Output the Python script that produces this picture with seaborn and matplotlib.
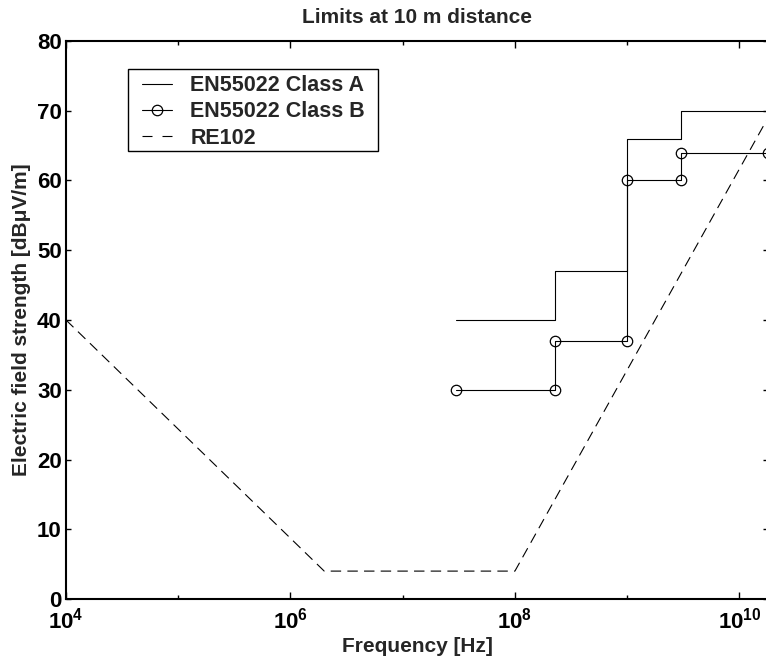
import numpy as np
import pandas as pd
import matplotlib
matplotlib.use("Agg")
import matplotlib.pyplot as plt
import seaborn as sns
from matplotlib.patches import Rectangle
from matplotlib.ticker import FixedLocator, NullFormatter, FixedFormatter

# ---- data ----
class_freq = [30e6, 230e6, 230e6, 1e9, 1e9, 3e9, 3e9, 18e9]
class_a_level = [40, 40, 47, 47, 66, 66, 70, 70]
class_b_level = [30, 30, 37, 37, 60, 60, 64, 64]
re102_freq = [1e4, 2e6, 1e8, 18e9]
re102_level = [40, 4, 4, 69]
series_names = ["EN55022 Class A", "EN55022 Class B", "RE102"]
x_major = [1e4, 1e6, 1e8, 1e10]
x_major_labels = [r"$\mathregular{10^{4}}$", r"$\mathregular{10^{6}}$",
                  r"$\mathregular{10^{8}}$", r"$\mathregular{10^{10}}$"]
x_minor = [1e5, 1e7, 1e9]
y_ticks = [0, 10, 20, 30, 40, 50, 60, 70, 80]

sns.set_style("ticks")
plt.rcParams["font.family"] = ["Liberation Sans", "DejaVu Sans"]
plt.rcParams["mathtext.fontset"] = "custom"
plt.rcParams["mathtext.rm"] = "Liberation Sans:bold"
plt.rcParams["mathtext.bf"] = "Liberation Sans:bold"
plt.rcParams["lines.scale_dashes"] = False

W, H = 766, 666
fig = plt.figure(figsize=(W / 100, H / 100), dpi=100)
ax = fig.add_axes([66 / W, (H - 599) / H, (768 - 66) / W, (599 - 41) / H])

df_a = pd.DataFrame({"f": class_freq, "v": class_a_level})
df_b = pd.DataFrame({"f": class_freq, "v": class_b_level})
df_r = pd.DataFrame({"f": re102_freq, "v": re102_level})

sns.lineplot(data=df_a, x="f", y="v", ax=ax, sort=False, estimator=None,
             color="black", linewidth=0.8, label=series_names[0])
sns.lineplot(data=df_b, x="f", y="v", ax=ax, sort=False, estimator=None,
             color="black", linewidth=0.8, marker="o", markersize=7.5,
             markerfacecolor="none", markeredgecolor="black", markeredgewidth=0.9,
             label=series_names[1])
sns.lineplot(data=df_r, x="f", y="v", ax=ax, sort=False, estimator=None,
             color="black", linewidth=0.8, dashes=False, label=series_names[2])
ax.lines[2].set_dashes((7.5, 4.5))

ax.set_xscale("log")
ax.set_xlim(1e4, 18e9)
ax.set_ylim(0, 80)

ax.xaxis.set_major_locator(FixedLocator(x_major))
ax.xaxis.set_major_formatter(FixedFormatter(x_major_labels))
ax.xaxis.set_minor_locator(FixedLocator(x_minor))
ax.xaxis.set_minor_formatter(NullFormatter())
ax.set_yticks(y_ticks)
ax.set_yticklabels([str(t) for t in y_ticks])

ax.tick_params(axis="both", which="both", direction="in", top=True, right=True,
               width=1.0, colors="black")
ax.tick_params(axis="x", which="major", length=5, pad=6, labelsize=16)
ax.tick_params(axis="x", which="minor", length=3)
ax.tick_params(axis="y", which="major", length=3.5, pad=3, labelsize=16)
for lab in ax.get_xticklabels() + ax.get_yticklabels():
    lab.set_fontweight("bold")

for s in ax.spines.values():
    s.set_linewidth(1.5)
    s.set_color("black")
    s.set_visible(True)

ax.set_xlabel("Frequency [Hz]", fontsize=15, fontweight="bold", labelpad=3)
ax.set_ylabel("Electric field strength [dB\u03bcV/m]", fontsize=15,
              fontweight="bold", labelpad=4)
ax.set_title("Limits at 10 m distance", fontsize=15, fontweight="bold", pad=13)

# legend: entries without own frame, plus a plain rectangular frame
leg = ax.legend(loc="upper left", bbox_to_anchor=(0.1083, 0.9385),
                borderaxespad=0, borderpad=0, frameon=False,
                prop={"size": 15.5, "weight": "bold"},
                handlelength=1.4, handletextpad=0.84, labelspacing=0.24)
leg.legend_handles[2].set_dashes((7.2, 7.2))
ax.add_patch(Rectangle((0.0883, 0.8029), 0.3561, 0.1470, transform=ax.transAxes,
                       fill=True, facecolor="white", edgecolor="black",
                       linewidth=1.0, zorder=4.5))
leg.set_zorder(5)

fig.savefig("out.png", dpi=100)
